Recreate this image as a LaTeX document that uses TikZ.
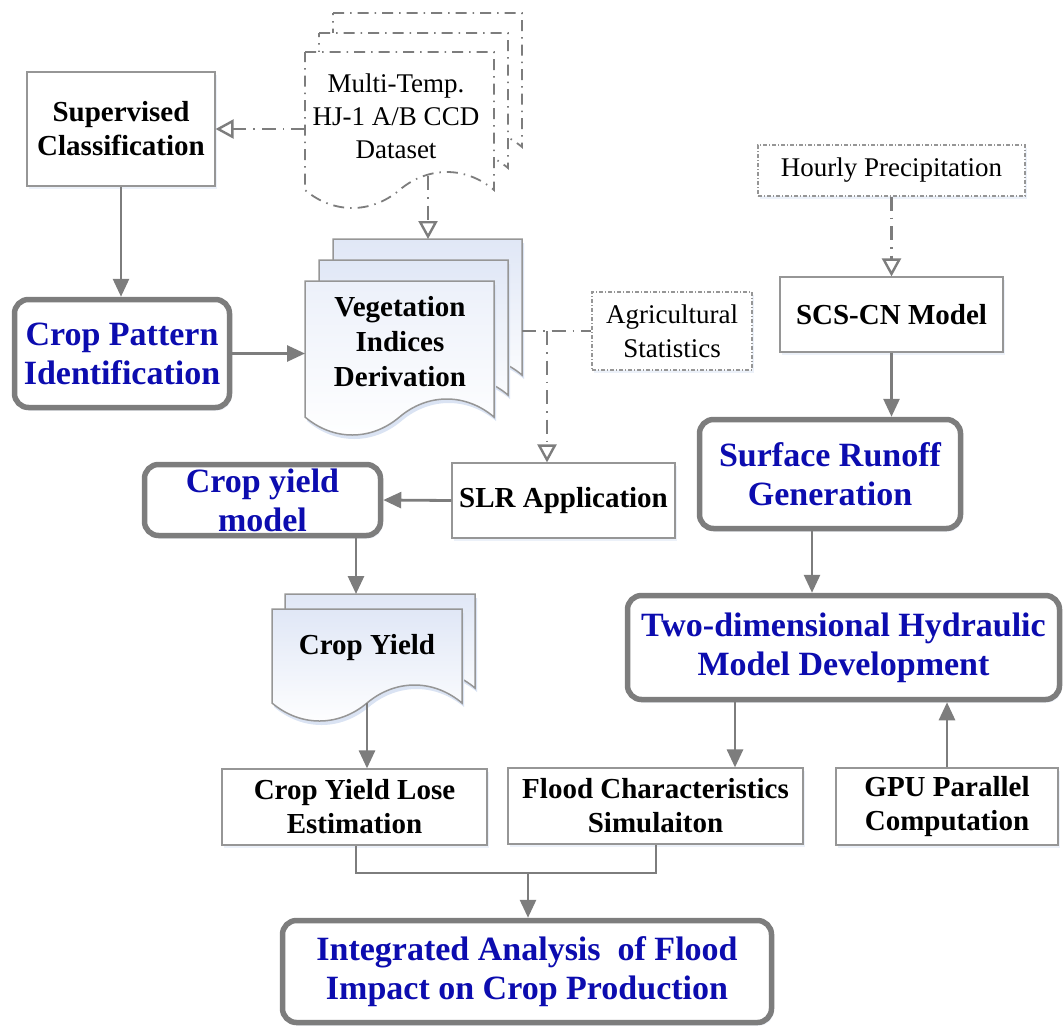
\documentclass[tikz,border=0pt]{standalone}
\usepackage{fontspec}
\setmainfont{Liberation Serif}
\usetikzlibrary{arrows.meta,shadows}
\definecolor{lg}{RGB}{125,125,125}
\definecolor{bx}{RGB}{150,150,150}
\definecolor{tb}{RGB}{12,12,175}
\definecolor{shad}{RGB}{218,227,243}
\definecolor{docb}{RGB}{224,231,246}
\newcommand{\docshape}[5]{%
 \draw[#1] (#2,#4) -- (#3,#4) -- (#3,#5)
 .. controls ({#3-0.15*(#3-#2)},{#5-24}) and ({#3-0.35*(#3-#2)},{#5-24}) .. ({(#2+#3)/2},{#5})
 .. controls ({#2+0.35*(#3-#2)},{#5+24}) and ({#2+0.15*(#3-#2)},{#5+24}) .. (#2,#5) -- cycle;}
\begin{document}
\begin{tikzpicture}[x=1pt,y=-1pt,
 conn/.style={draw=lg, line width=2.8pt},
 arr/.style={conn, -{Triangle[length=18pt,width=16pt]}},
 dd/.style={draw=lg, line width=2.4pt, dash pattern=on 14pt off 7pt on 1.5pt off 7pt},
 ddl/.style={draw=lg, line width=1.8pt, dash pattern=on 11pt off 6pt on 1.5pt off 6pt},
 oarr/.style={dd, -{Triangle[open,length=18pt,width=19pt,line width=2.4pt]}},
 shd/.style={drop shadow={shadow xshift=2pt,shadow yshift=-3pt,fill=shad}},
 tbox/.style={draw=bx, line width=1.2pt, fill=white, inner sep=0pt, align=center,
   font=\bfseries\fontsize{29}{34}\selectfont, shd},
 rbox/.style={draw=lg, line width=5.5pt, rounded corners=14pt, fill=white, inner sep=0pt,
   align=center, text=tb, font=\bfseries\fontsize{34}{39}\selectfont, shd},
 dbox/.style={draw=bx, line width=1.2pt, dash pattern=on 4pt off 2pt on 1pt off 2pt,
   fill=white, inner sep=0pt, align=center, font=\fontsize{27}{34}\selectfont, shd},
 txt/.style={align=center, font=\bfseries\fontsize{29}{35}\selectfont}
]
\useasboundingbox (0,0) rectangle (1064,1028);

% left column
\node[tbox, minimum width=188pt, minimum height=114pt] (sup) at (121,129) {Supervised\\Classification};
\node[rbox, minimum width=215pt, minimum height=108pt] (cp) at (122,353.5) {Crop Pattern\\Identification};

% dataset stack
\docshape{ddl, fill=white}{333}{522}{13}{147}
\docshape{ddl, fill=white}{319}{508}{33}{168}
\docshape{ddl, fill=white}{305}{494}{52}{190}
\node[align=center, font=\fontsize{27}{33}\selectfont] (ds) at (396,116) {Multi-Temp.\\HJ-1 A/B CCD\\Dataset};

% vegetation stack
\docshape{fill=shad, draw=none, shift={(2,4)}}{333}{522}{239}{375}
\docshape{draw=bx, line width=1.5pt, top color=docb, bottom color=white}{333}{522}{239}{375}
\docshape{fill=shad, draw=none, shift={(2,4)}}{319}{508}{260}{395}
\docshape{draw=bx, line width=1.5pt, top color=docb, bottom color=white}{319}{508}{260}{395}
\docshape{fill=shad, draw=none, shift={(2,4)}}{305}{494}{281}{417}
\docshape{draw=bx, line width=1.5pt, top color=docb!60, bottom color=white}{305}{494}{281}{417}
\node[txt] (veg) at (400,342) {Vegetation\\Indices\\Derivation};

% right column
\node[dbox, minimum width=160pt, minimum height=78pt] (agr) at (672,331) {Agricultural\\Statistics};
\node[dbox, minimum width=267pt, minimum height=51pt] (hp) at (891.5,170.5) {Hourly Precipitation};
\node[tbox, minimum width=223pt, minimum height=75pt] (scs) at (891.5,314.5) {SCS-CN Model};
\node[rbox, minimum width=261pt, minimum height=109pt] (sr) at (830,474) {Surface Runoff\\Generation};
\node[tbox, minimum width=223pt, minimum height=75pt] (slr) at (563.5,500.5) {SLR Application};
\node[rbox, minimum width=236pt, minimum height=71pt] (cym) at (262.5,500) {Crop yield\\model};

% crop yield stack
\docshape{fill=shad, draw=none, shift={(2,4)}}{285}{475}{594}{688}
\docshape{draw=bx, line width=1.5pt, top color=docb, bottom color=white}{285}{475}{594}{688}
\docshape{fill=shad, draw=none, shift={(2,4)}}{272}{462}{609}{703}
\docshape{draw=bx, line width=1.5pt, top color=docb, bottom color=white}{272}{462}{609}{703}
\node[txt] (cy) at (367,648) {Crop Yield};

\node[rbox, minimum width=432pt, minimum height=104pt] (td) at (843.5,647.5) {Two-dimensional Hydraulic\\Model Development};
\node[tbox, minimum width=265pt, minimum height=76pt] (cyle) at (354.5,807) {Crop Yield Lose\\Estimation};
\node[tbox, minimum width=295pt, minimum height=76pt] (fl) at (655.5,806) {Flood Characteristics\\Simulaiton};
\node[tbox, minimum width=222pt, minimum height=77pt] (gpu) at (947,806.5) {GPU Parallel\\Computation};
\node[rbox, minimum width=489pt, minimum height=102pt] (ia) at (527,971.5) {Integrated Analysis\ \ of Flood\\Impact on Crop Production};

% connectors
\coordinate (vegL) at (305,353.5);
\coordinate (dsL) at (305,129);
\coordinate (dsB) at (428,176);
\coordinate (vegT) at (428,239);
\coordinate (vegR) at (522,331);
\coordinate (br) at (547,331);
\coordinate (cyT) at (356,594);
\coordinate (cyB) at (367,703);
\coordinate (a2) at (812,0);
\coordinate (a3) at (735,0);
\coordinate (m1) at (356,873);
\coordinate (m2) at (656,873);
\coordinate (m3) at (528,873);

\draw[arr] (sup.south) -- (sup.south |- cp.north);
\draw[arr] (cp.east) -- (vegL);
\draw[oarr] (dsL) -- (sup.east);
\draw[oarr] (dsB) -- (vegT);
\draw[dd] (vegR) -- (agr.west);
\draw[oarr] (br) -- (br |- slr.north);
\draw[arr] (slr.west) -- (cym.east);
\draw[arr] (cym.south -| cyT) -- (cyT);
\draw[arr] (cyB) -- (cyB |- cyle.north);
\draw[oarr] (hp.south) -- (scs.north);
\draw[arr] (scs.south) -- (scs.south |- sr.north);
\draw[arr] (sr.south -| a2) -- (td.north -| a2);
\draw[arr] (td.south -| a3) -- (fl.north -| a3);
\draw[arr] (gpu.north) -- (gpu.north |- td.south);
\draw[conn] (cyle.south -| m1) -- (m1) -- (m2) -- (fl.south -| m2);
\draw[arr] (m3) -- (ia.north -| m3);
\end{tikzpicture}
\end{document}
